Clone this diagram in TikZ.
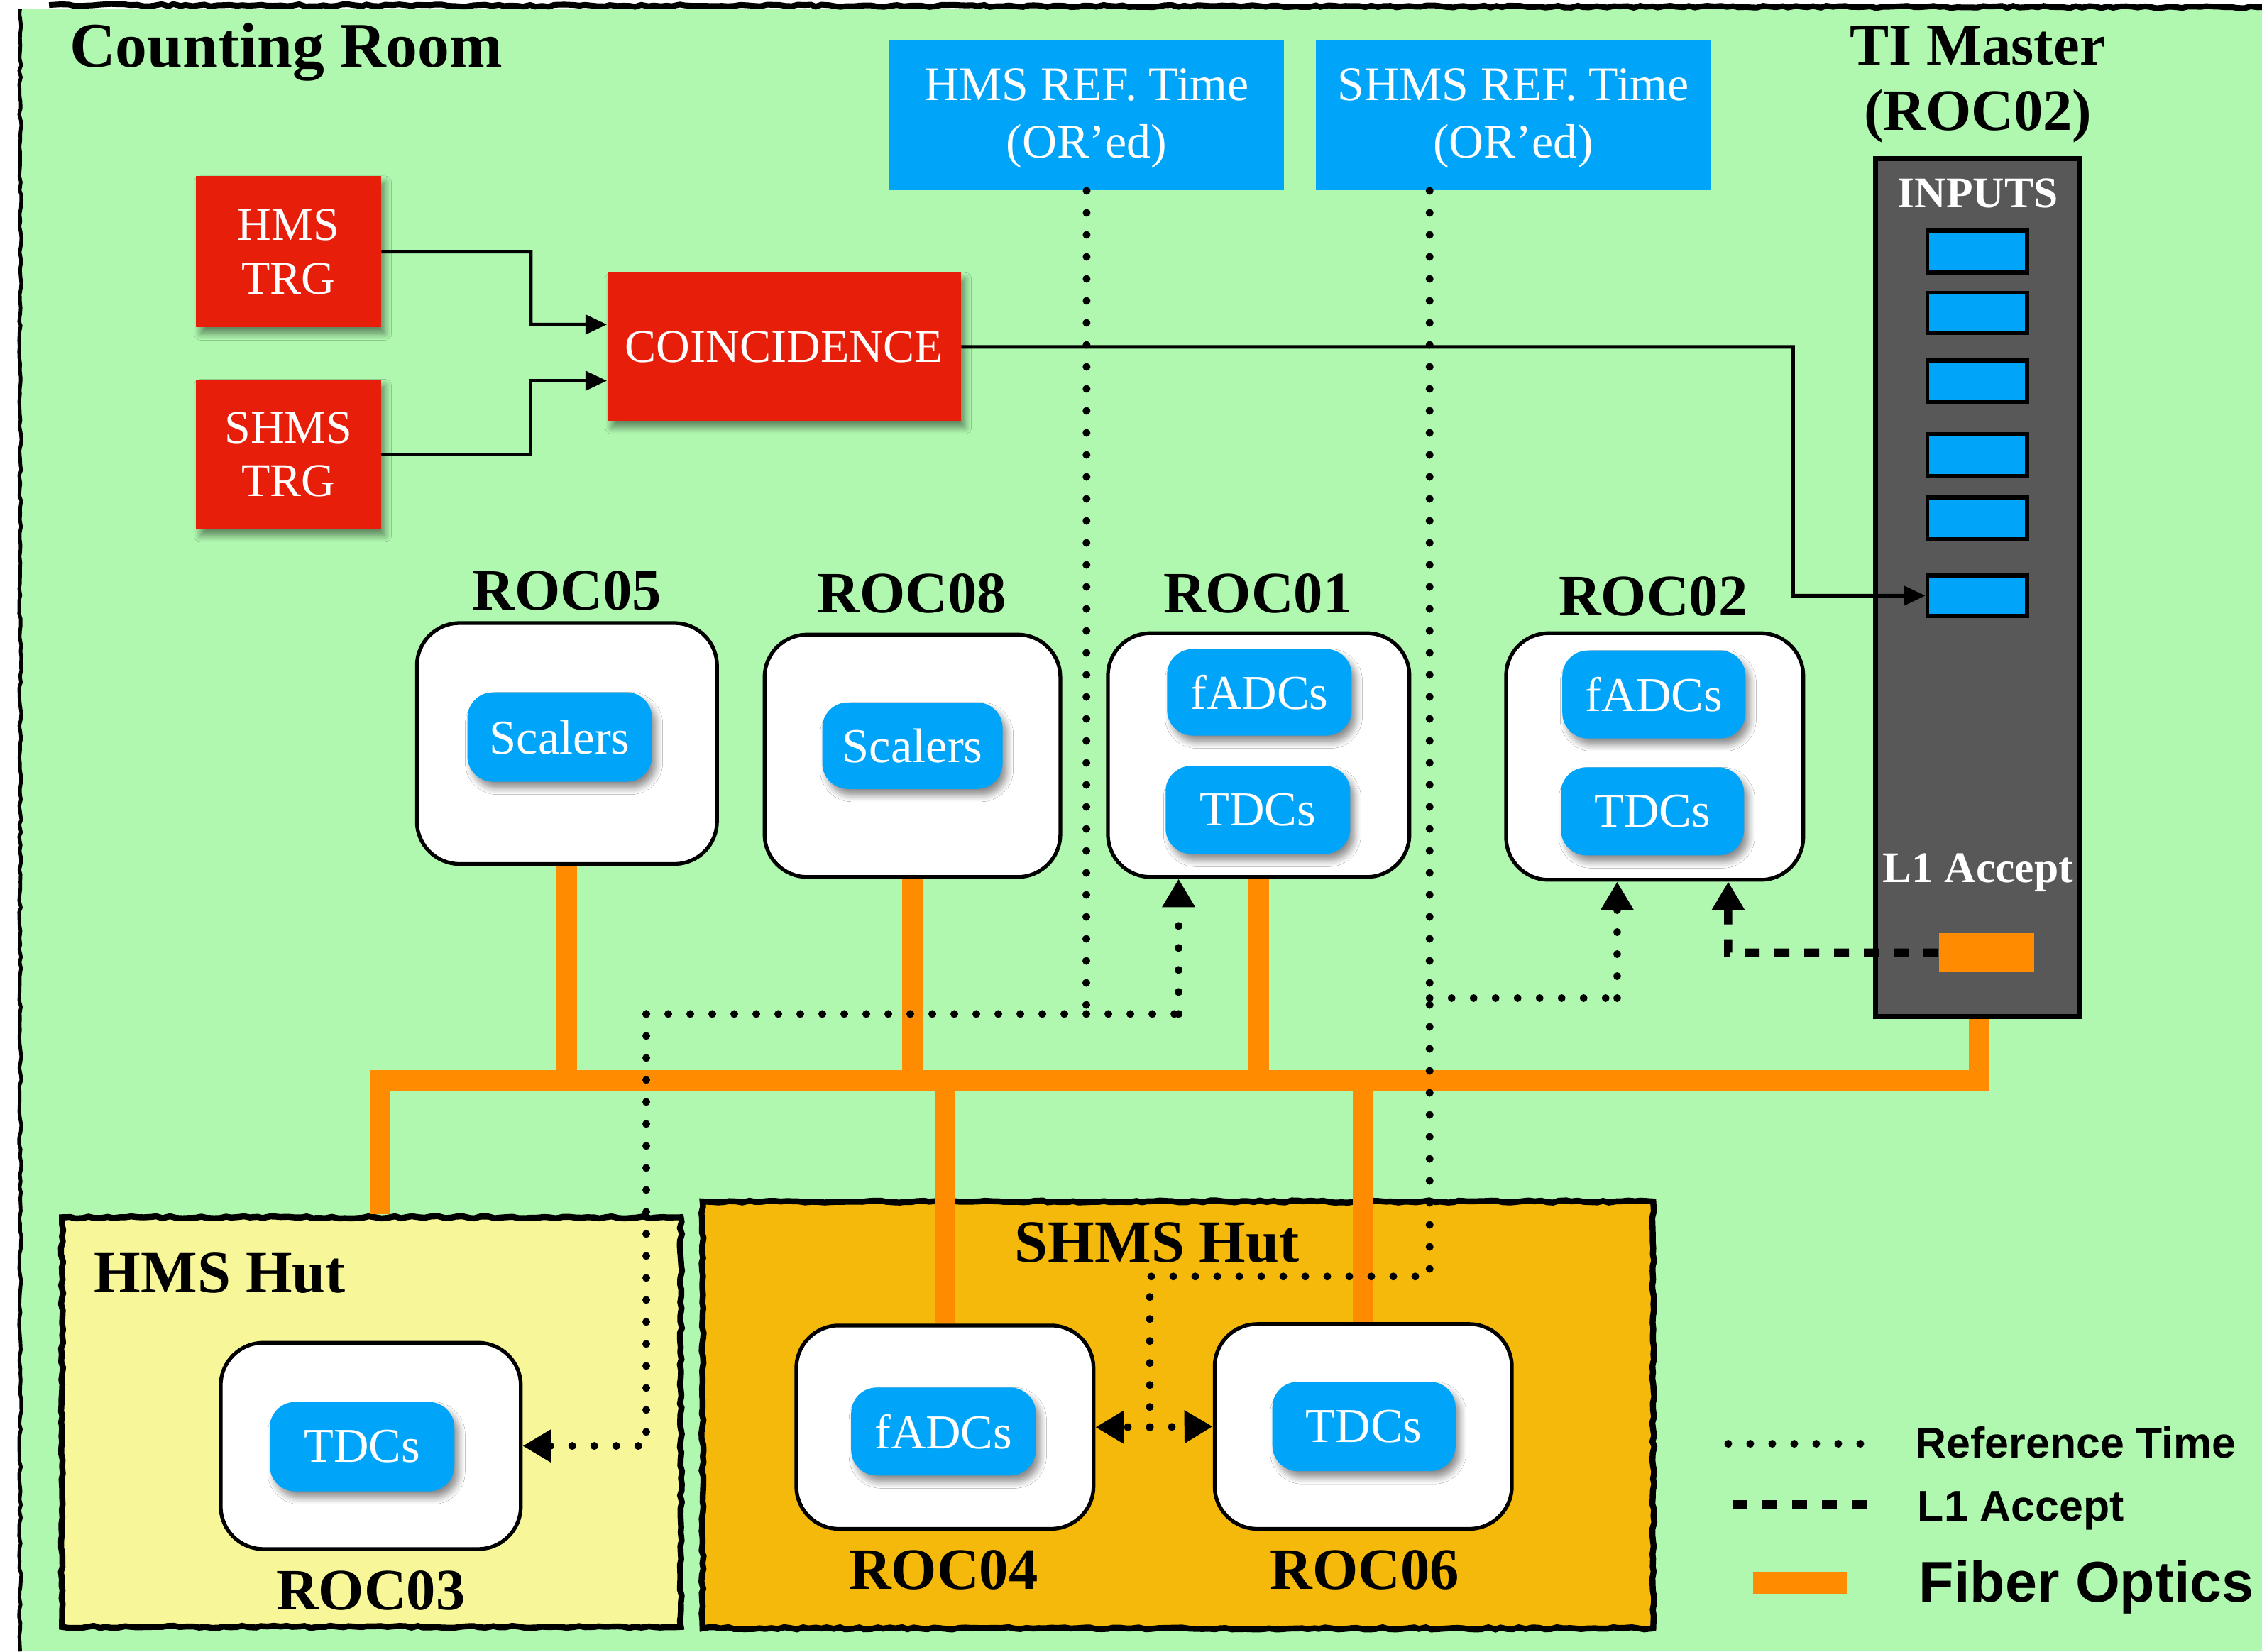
\documentclass[tikz,border=0pt]{standalone}
\usepackage{fontspec}
\setmainfont{Liberation Serif}
\newfontfamily\legendfont{Liberation Sans}
\usetikzlibrary{fit,calc,arrows.meta,shadows.blur,decorations.pathmorphing}

\definecolor{roomgreen}{RGB}{176,248,176}
\definecolor{trgred}{RGB}{230,30,10}
\definecolor{modblue}{RGB}{0,165,250}
\definecolor{fiberc}{RGB}{255,140,0}
\definecolor{hmsyellow}{RGB}{247,246,152}
\definecolor{shmsorange}{RGB}{244,185,10}
\definecolor{tigray}{RGB}{88,88,88}

\begin{document}
\begin{tikzpicture}[x=0.020325cm, y=-0.020325cm,
  box/.style={rectangle, inner sep=0pt},
  softshadow/.style={blur shadow={shadow xshift=0.06cm, shadow yshift=-0.09cm,
      shadow blur radius=0.09cm, shadow blur steps=8, shadow opacity=45}},
  sketchy/.style={decorate, decoration={random steps, segment length=2.5pt, amplitude=0.45pt}},
  redbox/.style={box, fill=trgred, softshadow},
  redtext/.style={inner sep=0pt, anchor=center, align=center, text=white,
      font=\fontsize{18.8}{21.5}\selectfont},
  refbox/.style={box, fill=modblue},
  reftext/.style={inner sep=0pt, anchor=center, align=center, text=white,
      font=\fontsize{19.3}{23}\selectfont},
  rocbox/.style={box, draw=black, line width=1.5pt, fill=white, rounded corners=0.6cm},
  modbox/.style={box, fill=modblue, rounded corners=0.36cm, softshadow},
  modtext/.style={inner sep=0pt, anchor=center, text=white,
      font=\fontsize{19.5}{22}\selectfont},
  slotbox/.style={box, fill=modblue, draw=black, line width=1.6pt},
  hutbox/.style={box, draw=black, line width=2.4pt, sketchy},
  boldlabel/.style={inner sep=0pt, anchor=base, align=center,
      font=\fontsize{23.5}{26.3}\selectfont\bfseries},
  legendtext/.style={inner sep=0pt, anchor=base west,
      font=\legendfont\fontsize{17.3}{20}\selectfont\bfseries},
  fiber/.style={draw=fiberc, line width=0.29cm, line join=miter},
  refline/.style={line width=0.11cm, line cap=round, dash pattern=on 0pt off 0.31cm},
  l1line/.style={line width=0.115cm, dash pattern=on 0.21cm off 0.21cm},
  bigtip/.style={-{Triangle[width=0.44cm,length=0.40cm]}},
  trig/.style={line width=1.4pt, -{Triangle[width=0.27cm,length=0.3cm]}},
]

% canvas and room frame
\useasboundingbox (0,0) rectangle (1568,1145);
\fill[white] (0,0) rectangle (1568,1145);
\fill[roomgreen] (15,6) rectangle (1568,1145);
\draw[line width=1.4pt, sketchy] (14,6) -- (14,1145);
\draw[line width=2.3pt, sketchy] (34,3.5) -- (1568,5);

\node[boldlabel, anchor=base west, font=\fontsize{25.5}{28}\selectfont\bfseries]
  (room) at (48,46.6) {Counting Room};

% huts
\node[hutbox, fill=hmsyellow, fit={(43,844) (472,1128)}] (hmshut) {};
\node[hutbox, fill=shmsorange, fit={(487,833) (1146,1129)}] (shmshut) {};
\node[boldlabel, anchor=base west, font=\fontsize{24}{27}\selectfont\bfseries]
  (hmshutl) at (65,896) {HMS Hut};
\node[boldlabel, anchor=base east, font=\fontsize{24}{27}\selectfont\bfseries]
  (shmshutl) at (901,875) {SHMS Hut};

% trigger logic
\node[redbox, fit={(136,122) (264,227)}] (hmstrg) {};
\node[redtext] (hmstrgt) at (hmstrg.center) {HMS\\TRG};
\node[redbox, fit={(136,263) (264,367)}] (shmstrg) {};
\node[redtext] (shmstrgt) at (shmstrg.center) {SHMS\\TRG};
\node[redbox, fit={(421,189) (666,292)}] (coinc) {};
\node[redtext] (coinct) at (coinc.center) {COINCIDENCE};

% reference time sources
\node[refbox, fit={(616.5,28) (890,132)}] (hmsref) {};
\node[reftext] (hmsreft) at ($(hmsref.center)+(0,2)$) {HMS REF. Time\\(OR’ed)};
\node[refbox, fit={(912,28) (1186,132)}] (shmsref) {};
\node[reftext] (shmsreft) at ($(shmsref.center)+(0,2)$) {SHMS REF. Time\\(OR’ed)};

% TI master crate
\node[boldlabel] (tilabel) at (1371,90.5) {TI Master\\(ROC02)};
\node[box, fill=tigray, draw=black, line width=2pt, fit={(1300,110) (1442,705)}] (ti) {};
\node[inner sep=0pt, anchor=base, text=white, font=\fontsize{17.5}{20}\selectfont\bfseries]
  (inputs) at (1371,144) {INPUTS};
\foreach \i/\ya/\yb in {1/160/189, 2/203/231, 3/250/279, 4/301/330, 5/345/374, 6/399/427}
  \node[slotbox, fit={(1336,\ya) (1405,\yb)}] (slot\i) {};
\node[inner sep=0pt, anchor=base, text=white, font=\fontsize{17.5}{20}\selectfont\bfseries]
  (l1label) at (1371,612) {L1 Accept};

% fiber optics network
\coordinate (busL) at (263.5,749);
\coordinate (busR) at (1372,749);
\draw[fiber] (busL |- hmshut.north) -- (busL) -- (busR) -- (busR |- ti.south);

% counting room ROCs
\node[rocbox, fit={(289,432) (497,599)}] (roc05) {};
\node[modbox, fit={(324,480) (452,542)}] (roc05s) {};
\node[modtext] (roc05st) at (roc05s.center) {Scalers};
\node[boldlabel] (roc05l) at (393,423) {ROC05};

\node[rocbox, fit={(530,440) (735,608)}] (roc08) {};
\node[modbox, fit={(570,487) (695,547)}] (roc08s) {};
\node[modtext] (roc08st) at (roc08s.center) {Scalers};
\node[boldlabel] (roc08l) at (632,425) {ROC08};

\node[rocbox, fit={(768,439) (977,608)}] (roc01) {};
\node[modbox, fit={(809,450) (937,510)}] (roc01f) {};
\node[modtext] (roc01ft) at (roc01f.center) {fADCs};
\node[modbox, fit={(808,531) (936,592)}] (roc01t) {};
\node[modtext] (roc01tt) at (roc01t.center) {TDCs};
\node[boldlabel] (roc01l) at (872,425) {ROC01};

\node[rocbox, fit={(1044,439) (1250,610)}] (roc02) {};
\node[modbox, fit={(1083,451) (1210,512)}] (roc02f) {};
\node[modtext] (roc02ft) at (roc02f.center) {fADCs};
\node[modbox, fit={(1082,532) (1209,593)}] (roc02t) {};
\node[modtext] (roc02tt) at (roc02t.center) {TDCs};
\node[boldlabel] (roc02l) at (1146,427) {ROC02};

% hut ROCs
\node[rocbox, fit={(153,931) (361,1074)}] (roc03) {};
\node[modbox, fit={(187,972) (315,1034)}] (roc03t) {};
\node[modtext] (roc03tt) at (roc03t.center) {TDCs};
\node[boldlabel] (roc03l) at (257,1116) {ROC03};

\node[rocbox, fit={(552,919) (758,1060)}] (roc04) {};
\node[modbox, fit={(590,962) (718,1023)}] (roc04f) {};
\node[modtext] (roc04ft) at (roc04f.center) {fADCs};
\node[boldlabel] (roc04l) at (654,1102) {ROC04};

\node[rocbox, fit={(842,918) (1048,1060)}] (roc06) {};
\node[modbox, fit={(882,958) (1009,1020)}] (roc06t) {};
\node[modtext] (roc06tt) at (roc06t.center) {TDCs};
\node[boldlabel] (roc06l) at (946,1102) {ROC06};

% fiber drops from each ROC to the bus
\draw[fiber] (roc05.south) -- (roc05.south |- busL);
\draw[fiber] (roc08.south) -- (roc08.south |- busL);
\draw[fiber] (roc01.south) -- (roc01.south |- busL);
\draw[fiber] (roc04.north |- busL) -- (roc04.north);
\draw[fiber] (roc06.north |- busL) -- (roc06.north);

% trigger connections
\draw[trig] (hmstrg.east) -- (368,174.5) |- ($(coinc.west)+(0,-15.5)$);
\draw[trig] (shmstrg.east) -- (368,315) |- ($(coinc.west)+(0,23.5)$);
\draw[trig] (coinc.east) -- (1243,240.5) |- (slot6.west);

% HMS reference time distribution
\coordinate (h1) at (753,703);
\coordinate (h2) at (448,703);
\coordinate (h3) at (817,703);
\draw[refline] (hmsref.south) -- (h1);
\draw[refline] (h2) -- (h3);
\draw[refline, bigtip] (h3) -- (h3 |- roc01.south);
\draw[refline, bigtip] (h2) -- (h2 |- roc03.east) -- (roc03.east);

% SHMS reference time distribution
\coordinate (s0) at (991,132);
\coordinate (s1) at (991,692);
\coordinate (s2) at (1121,692);
\coordinate (s3) at (991,885);
\coordinate (s4) at (797,885);
\coordinate (s5) at (797,989.5);
\draw[refline] (s0 |- shmsref.south) -- (s3) -- (s4) -- (s5);
\draw[refline, bigtip] (s5) -- (roc04.east);
\draw[refline, bigtip] (s5) -- (roc06.west);
\draw[refline] (s1) -- (s2);
\draw[refline, bigtip] (s2) -- (s2 |- roc02.south);

% L1 accept
\node[box, fill=fiberc, fit={(1344,647) (1410,674)}] (l1port) {};
\coordinate (l0) at (1198,660.5);
\draw[l1line, bigtip] (l1port.west) -- (l0) -- (l0 |- roc02.south);

% legend
\coordinate (lgdotA) at (1198,1001);
\coordinate (lgdotB) at (1295,1001);
\draw[refline] (lgdotA) -- (lgdotB);
\node[legendtext] (lgref) at (1327.5,1011) {Reference Time};
\coordinate (lgdashA) at (1201,1043);
\coordinate (lgdashB) at (1295,1043);
\draw[l1line] (lgdashA) -- (lgdashB);
\node[legendtext] (lgl1) at (1329,1054.6) {L1 Accept};
\node[box, fill=fiberc, fit={(1215,1090) (1280,1105)}] (lgfiber) {};
\node[legendtext, font=\legendfont\fontsize{23}{26}\selectfont\bfseries]
  (lgfib) at (1330,1110.5) {Fiber Optics};

\end{tikzpicture}
\end{document}
